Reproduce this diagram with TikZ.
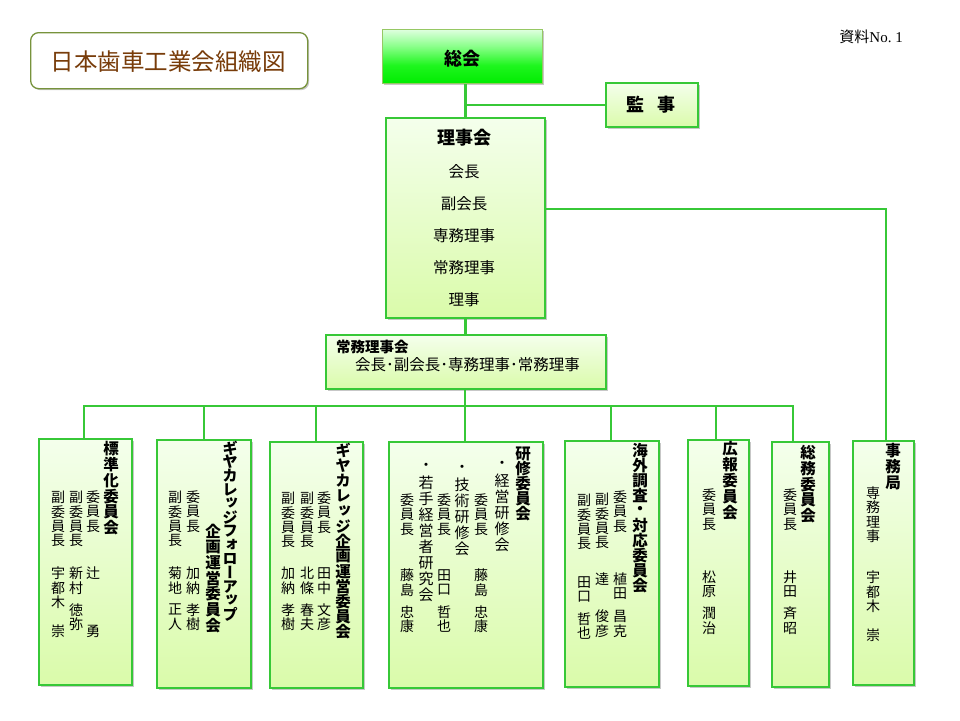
\documentclass[tikz,border=0pt]{standalone}
\usepackage{fontspec}
\usetikzlibrary{shadows}
\newfontfamily\jp{Noto Sans CJK JP}
\newfontfamily\vjp[RawFeature=+vert]{Noto Sans CJK JP}
\newfontfamily\lser{Liberation Serif}
\definecolor{lg}{RGB}{55,200,55}
\definecolor{boxtop}{RGB}{244,255,236}
\definecolor{boxbot}{RGB}{218,251,170}
\definecolor{olivec}{RGB}{119,147,60}
\definecolor{brownt}{RGB}{120,60,10}
\definecolor{skborder}{RGB}{150,200,100}
\pgfdeclareverticalshading{soukaishade}{100bp}{color(0bp)=(rgb,255:red,0;green,236;blue,0); color(25bp)=(rgb,255:red,0;green,236;blue,0); color(42bp)=(rgb,255:red,30;green,246;blue,30); color(60bp)=(rgb,255:red,140;green,255;blue,140); color(75bp)=(rgb,255:red,222;green,255;blue,222); color(100bp)=(rgb,255:red,222;green,255;blue,222)}
\makeatletter
\newlength\vtp
\def\vt@dash{-}
\newcommand\vtx[2]{\setlength\vtp{#1}\vbox{\offinterlineskip\@tfor\vt@c:=#2\do{\vt@put}}}
\def\vt@put{\ifx\vt@c\vt@dash\kern.5\vtp\else\hbox to 1em{\hss\vbox to \vtp{\vss\hbox{\vt@c}\vss}\hss}\fi}
\makeatother
\tikzset{
  shad/.style={drop shadow={shadow xshift=1.5pt, shadow yshift=-1.5pt, opacity=.22, fill=black}},
  gbox/.style={draw=lg, line width=2pt, top color=boxtop, bottom color=boxbot, inner sep=0pt, anchor=north west, shad},
  conn/.style={draw=lg, line width=2.8pt},
  mtx/.style={inner sep=0pt, anchor=north, font=\vjp\fontsize{14}{14}\selectfont},
  stx/.style={inner sep=0pt, anchor=north, font=\vjp\fontsize{15}{16}\selectfont},
  ttx/.style={inner sep=0pt, anchor=north, font=\vjp\bfseries\fontsize{15.5}{16}\selectfont},
  htb/.style={inner sep=0pt, font=\jp\bfseries\fontsize{18}{18}\selectfont},
  htr/.style={inner sep=0pt, font=\jp\fontsize{15.5}{16}\selectfont},
}
\begin{document}
\begin{tikzpicture}[x=1pt,y=-1pt]
\useasboundingbox (0,0) rectangle (960,720);
% title
\node[draw=olivec, line width=1.3pt, fill=white, rounded corners=8pt, anchor=north west, minimum width=277pt, minimum height=56pt, shad] (titlebox) at (30,32) {};
\node[inner sep=0pt, text=brownt, font=\jp\fontsize{23.5}{24}\selectfont] (titletext) at (168,62) {日本歯車工業会組織図};
\node[inner sep=0pt, anchor=east, font=\fontsize{15}{16}\selectfont] (docno) at (903,37) {{\jp 資料}{\lser No.~1}};
% top boxes
\node[draw=skborder, line width=1.3pt, shading=soukaishade, anchor=north west, minimum width=160pt, minimum height=54pt, shad] (soukai) at (382,29) {};
\node[gbox, minimum width=92pt, minimum height=44pt] (kanji) at (605,82) {};
\node[gbox, minimum width=159pt, minimum height=200pt] (riji) at (385,117) {};
\node[gbox, minimum width=280pt, minimum height=54pt] (joumu) at (325,334) {};
% bottom boxes
\node[gbox, minimum width=93pt, minimum height=246pt] (b1) at (38,438) {};
\node[gbox, minimum width=94pt, minimum height=248pt] (b2) at (156,439) {};
\node[gbox, minimum width=93pt, minimum height=246pt] (b3) at (269,441) {};
\node[gbox, minimum width=154pt, minimum height=246pt] (b4) at (388,441) {};
\node[gbox, minimum width=94pt, minimum height=246pt] (b5) at (564,440) {};
\node[gbox, minimum width=61pt, minimum height=246pt] (b6) at (687,439) {};
\node[gbox, minimum width=57pt, minimum height=245pt] (b7) at (771,441) {};
\node[gbox, minimum width=61pt, minimum height=244pt] (b8) at (852,440) {};
% connectors
\coordinate (jc) at (886,209);
\coordinate (d1) at (84,406);
\coordinate (d2) at (204,406);
\coordinate (d3) at (316,406);
\coordinate (d4) at (465,406);
\coordinate (d5) at (611,406);
\coordinate (d6) at (716,406);
\coordinate (d7) at (793,406);
\draw[conn] (soukai.south -| riji.north) -- (riji.north);
\draw[conn] (kanji.west) -- (kanji.west -| riji.north);
\draw[conn] (riji.east |- jc) -- (jc) -- (jc |- b8.north);
\draw[conn] (riji.south) -- (riji.south |- joumu.north);
\draw[conn] (joumu.south -| d4) -- (d4);
\draw[conn] (d1 |- b1.north) -- (d1) -- (d7) -- (d7 |- b7.north);
\draw[conn] (d2) -- (d2 |- b2.north);
\draw[conn] (d3) -- (d3 |- b3.north);
\draw[conn] (d4) -- (d4 |- b4.north);
\draw[conn] (d5) -- (d5 |- b5.north);
\draw[conn] (d6) -- (d6 |- b6.north);
% top texts
\node[htb] (soukaitext) at (462,59) {総会};
\node[htb] (kanjitext) at (651,105) {監\hspace{14pt}事};
\node[htb] (rijitext) at (464,138) {理事会};
\node[htr] (rj1) at (464,172) {会長};
\node[htr] (rj2) at (464,204) {副会長};
\node[htr] (rj3) at (464,236) {専務理事};
\node[htr] (rj4) at (464,268) {常務理事};
\node[htr] (rj5) at (464,300) {理事};
\node[inner sep=0pt, anchor=west, font=\jp\bfseries\fontsize{14.5}{15}\selectfont] (joumut) at (336,347) {常務理事会};
\node[inner sep=0pt, anchor=west, font=\jp\fontsize{15.5}{16}\selectfont] (joumum) at (355,365) {会長･副会長･専務理事･常務理事};
% box 1
\node[ttx] (b1t) at (111,441) {\vtx{15.7pt}{標準化委員会}};
\node[mtx] (b1r1) at (93,490) {\vtx{14.5pt}{委員長}};
\node[mtx] (b1n1) at (93,566) {\vtx{14.5pt}{辻　　　勇}};
\node[mtx] (b1r2) at (76,490) {\vtx{14.5pt}{副委員長}};
\node[mtx] (b1n2) at (76,566) {\vtx{14.5pt}{新村-徳弥}};
\node[mtx] (b1r3) at (58,490) {\vtx{14.5pt}{副委員長}};
\node[mtx] (b1n3) at (58,566) {\vtx{14.5pt}{宇都木　崇}};
% box 2
\node[ttx] (b2t1) at (230,441) {\vtx{13.85pt}{ギヤカレッジフォローアップ}};
\node[ttx] (b2t2) at (213,523) {\vtx{15.7pt}{企画運営委員会}};
\node[mtx] (b2r1) at (193,490) {\vtx{14.5pt}{委員長}};
\node[mtx] (b2n1) at (193,566) {\vtx{14.5pt}{加納-孝樹}};
\node[mtx] (b2r2) at (175,490) {\vtx{14.5pt}{副委員長}};
\node[mtx] (b2n2) at (175,566) {\vtx{14.5pt}{菊地-正人}};
% box 3
\node[ttx] (b3t) at (343,443) {\vtx{15.1pt}{ギヤカレッジ企画運営委員会}};
\node[mtx] (b3r1) at (324,491) {\vtx{14.5pt}{委員長}};
\node[mtx] (b3n1) at (324,566) {\vtx{14.5pt}{田中-文彦}};
\node[mtx] (b3r2) at (307,491) {\vtx{14.5pt}{副委員長}};
\node[mtx] (b3n2) at (307,566) {\vtx{14.5pt}{北條-春夫}};
\node[mtx] (b3r3) at (288,491) {\vtx{14.5pt}{副委員長}};
\node[mtx] (b3n3) at (288,566) {\vtx{14.5pt}{加納-孝樹}};
% box 4
\node[ttx] (b4t) at (523,446) {\vtx{15pt}{研修委員会}};
\node[stx] (b4s1) at (502,457) {\vtx{16pt}{・経営研修会}};
\node[mtx] (b4r1) at (481,493) {\vtx{14.5pt}{委員長}};
\node[mtx] (b4n1) at (481,568) {\vtx{14.5pt}{藤島-忠康}};
\node[stx] (b4s2) at (462,461) {\vtx{16pt}{・技術研修会}};
\node[mtx] (b4r2) at (444,493) {\vtx{14.5pt}{委員長}};
\node[mtx] (b4n2) at (444,568) {\vtx{14.5pt}{田口-哲也}};
\node[stx] (b4s3) at (426,459) {\vtx{16pt}{・若手経営者研究会}};
\node[mtx] (b4r3) at (407,493) {\vtx{14.5pt}{委員長}};
\node[mtx] (b4n3) at (407,568) {\vtx{14.5pt}{藤島-忠康}};
% box 5
\node[ttx] (b5t) at (640,443) {\vtx{15pt}{海外調査・対応委員会}};
\node[mtx] (b5r1) at (620,490) {\vtx{14.5pt}{委員長}};
\node[mtx] (b5n1) at (620,571) {\vtx{15pt}{植田-昌克}};
\node[mtx] (b5r2) at (602,492) {\vtx{14.5pt}{副委員長}};
\node[mtx] (b5n2) at (602,571) {\vtx{15pt}{達　-俊彦}};
\node[mtx] (b5r3) at (584,493) {\vtx{14.5pt}{副委員長}};
\node[mtx] (b5n3) at (584,575) {\vtx{14.5pt}{田口-哲也}};
% box 6
\node[ttx] (b6t) at (730,441) {\vtx{15.8pt}{広報委員会}};
\node[mtx] (b6r) at (709,488) {\vtx{14.5pt}{委員長}};
\node[mtx] (b6n) at (709,570) {\vtx{14.5pt}{松原-潤治}};
% box 7
\node[ttx] (b7t) at (808,445) {\vtx{15.6pt}{総務委員会}};
\node[mtx] (b7r) at (790,488) {\vtx{14.5pt}{委員長}};
\node[mtx] (b7n) at (790,570) {\vtx{14.5pt}{井田-斉昭}};
% box 8
\node[ttx] (b8t) at (893,443) {\vtx{15.7pt}{事務局}};
\node[mtx] (b8r) at (873,486) {\vtx{14.3pt}{専務理事}};
\node[mtx] (b8n) at (873,570) {\vtx{14.5pt}{宇都木　崇}};
\end{tikzpicture}
\end{document}
